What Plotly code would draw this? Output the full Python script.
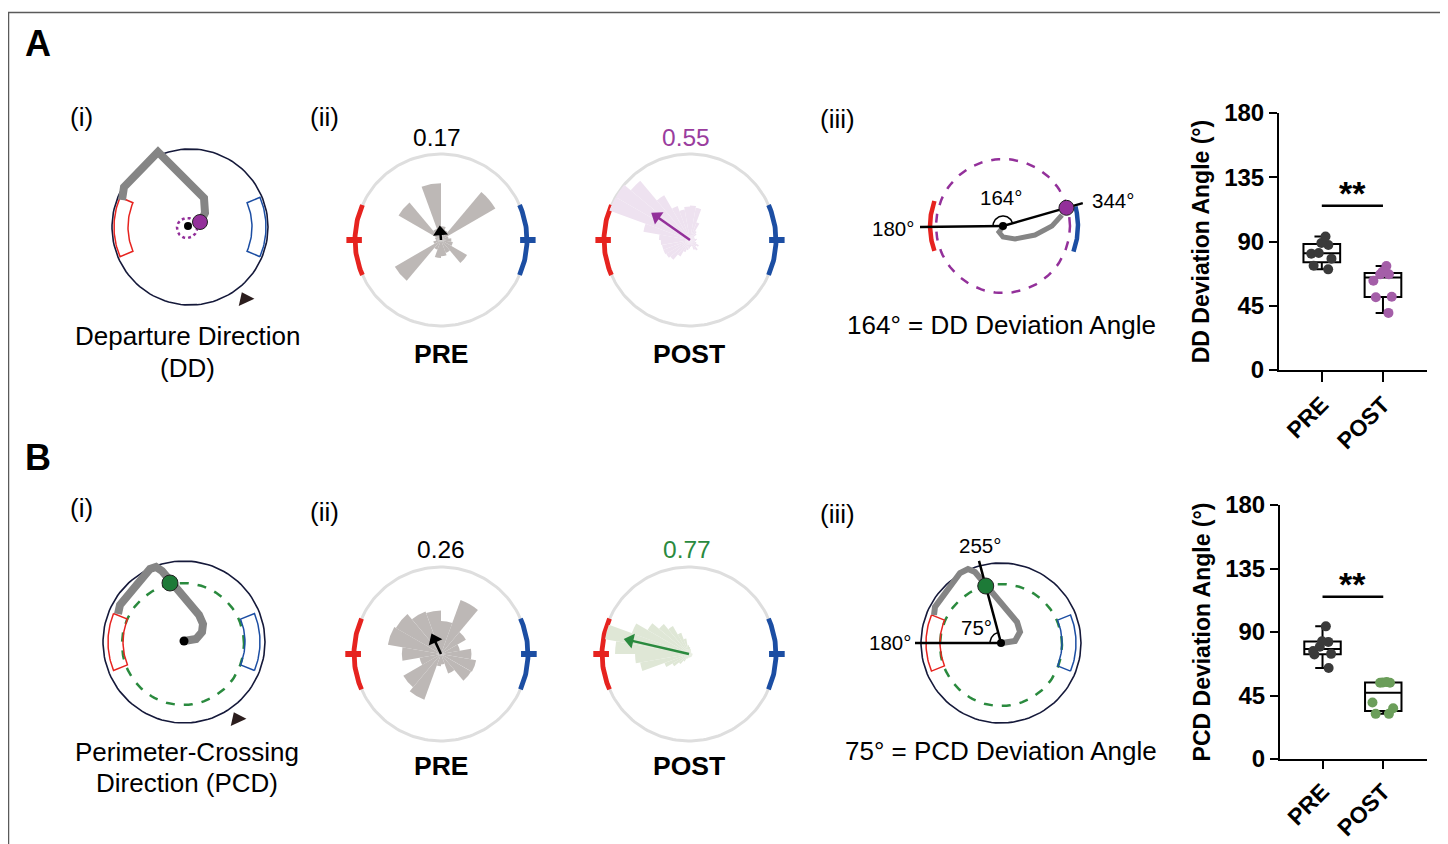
import numpy as np
import plotly.graph_objects as go

# page offset (browser body margin) and figure size
OX, OY = 8, 8
FW, FH = 1440, 836
FONT = "Liberation Sans, Arial, sans-serif"

# ---------------- data ----------------
pre_theta = list(range(0, 360, 20))          # 20-degree bins (PRE roses)
post_theta = list(range(5, 360, 10))         # 10-degree bins (POST roses)

dd_pre_rose = [0.12, 0.09, 0.73, 0.12, 0.16, 0.66, 0.14, 0.57, 0.07,
               0.06, 0.09, 0.62, 0.12, 0.21, 0.19, 0.16, 0.35, 0.14]
dd_post_rose = [0.08, 0.06, 0.05, 0.06, 0.10, 0.12, 0.22, 0.38, 0.40, 0.39,
                0.36, 0.42, 0.60, 0.90, 1.00, 1.00, 0.55, 0.36, 0.34, 0.33,
                0.33, 0.32, 0.30, 0.22, 0.15, 0.12, 0.10, 0.08, 0.07, 0.12,
                0.14, 0.10, 0.12, 0.08, 0.06, 0.07]
pcd_pre_rose = [0.35, 0.22, 0.33, 0.66, 0.38, 0.50, 0.52, 0.60, 0.62,
                0.45, 0.25, 0.50, 0.56, 0.14, 0.12, 0.24, 0.40, 0.41]
pcd_post_rose = [0.04, 0.03, 0.03, 0.03, 0.03, 0.04, 0.05, 0.06, 0.08, 0.10,
                 0.18, 0.26, 0.37, 0.45, 0.55, 0.70, 0.98, 0.85, 0.62, 0.57,
                 0.30, 0.22, 0.15, 0.10, 0.06, 0.05, 0.04, 0.04, 0.04, 0.04,
                 0.04, 0.04, 0.04, 0.04, 0.04, 0.04]

# mean resultant vectors (length, direction in degrees ccw from right)
dd_pre_vec = (0.17, 95)
dd_post_vec = (0.55, 145)
pcd_pre_vec = (0.26, 115)
pcd_post_vec = (0.77, 167)

# deviation angles (deg) per animal
dd_pre = [93.5, 89, 87.5, 82, 81.5, 78, 73, 70.5]
dd_post = [72.8, 68.8, 67, 67, 62.5, 51.3, 51, 40]
pcd_pre = [94, 83.5, 83, 79.5, 76.5, 74.5, 74, 64.5]
pcd_post = [54.5, 54.3, 54, 54, 40, 36, 32, 32]
groups = ["PRE", "POST"]
y_ticks = [0, 45, 90, 135, 180]
sig_level = 115
sig_label = "**"

# ---------------- colours ----------------
RED = "#e6231f"
BLUE = "#1c4ea3"
GRAY_BAR = "#bdb8b6"
PURPLE = "#93309a"
PURPLE_LIGHT = "#eee2f0"
GREEN = "#2a8a3e"
GREEN_LIGHT = "#dfe7d6"
NAVY = "#15193a"
TRAJ = "#858585"


def fx(p):
    return (p - OX) / FW


def fy(p):
    return (OY + FH - p) / FH


fig = go.Figure()


def add_line(xs, ys, color, width, dash="solid"):
    fig.add_trace(go.Scatter(x=list(xs), y=list(ys), mode="lines",
                             line=dict(color=color, width=width, dash=dash),
                             hoverinfo="skip", showlegend=False,
                             xaxis="x", yaxis="y"))


def add_dot(x, y, color, size, lc="#222", lw=1, symbol="circle", angle=0):
    fig.add_trace(go.Scatter(x=[x], y=[y], mode="markers",
                             marker=dict(color=color, size=size, symbol=symbol,
                                         angle=angle, line=dict(color=lc, width=lw)),
                             hoverinfo="skip", showlegend=False,
                             xaxis="x", yaxis="y"))


def arc(cx, cy, r, a0, a1, n=120):
    t = np.radians(np.linspace(a0, a1, n))
    return cx + r * np.cos(t), cy - r * np.sin(t)


def sector(cx, cy, ri, ro, a0, a1, color):
    xo, yo = arc(cx, cy, ro, a0, a1, 30)
    xi, yi = arc(cx, cy, ri, a1, a0, 30)
    xs = np.concatenate([xo, xi, xo[:1]])
    ys = np.concatenate([yo, yi, yo[:1]])
    add_line(xs, ys, color, 1.5)


def text(x, y, s, size=26, color="black", bold=False, xanchor="center"):
    fig.add_annotation(x=x, y=y, xref="x", yref="y", text=s, showarrow=False,
                       xanchor=xanchor, yanchor="middle",
                       font=dict(family=FONT, size=size, color=color,
                                 weight="bold" if bold else "normal"))


# ---------------- panel (i) schematics ----------------
# A(i)
cx, cy = 190, 227
add_line(*arc(cx, cy, 78, 0, 360), NAVY, 1.6)
sector(cx, cy, 62, 76, 157, 203, RED)
sector(cx, cy, 62, 76, -23, 23, BLUE)
add_line([122, 124, 158, 204, 205, 201], [200, 187, 152, 198, 213, 221], TRAJ, 8)
add_line(*arc(187, 228, 10, 0, 360), PURPLE, 2.5, "dot")
add_dot(188, 226, "black", 8, lw=0)
add_dot(200, 222, PURPLE, 15)
add_dot(245, 299, "#2b1d1d", 15, lw=0, symbol="triangle-up", angle=-25)
text(187, 336, "Departure Direction")
text(187, 368, "(DD)")

# B(i)
cx, cy = 184, 642
add_line(*arc(cx, cy, 81, 0, 360), NAVY, 1.6)
add_line(*arc(183, 644, 61, 0, 360), GREEN, 2.5, "dash")
sector(cx, cy, 61, 76, 158, 202, RED)
sector(cx, cy, 61, 76, -22, 22, BLUE)
add_line([184, 196, 202, 203, 199, 162, 156, 150, 120, 118],
         [641, 639, 632, 624, 615, 571, 567, 569, 605, 614], TRAJ, 8)
add_dot(184, 641, "black", 9, lw=0)
add_dot(170, 583, "#1d7a37", 16)
add_dot(237, 719, "#2b1d1d", 15, lw=0, symbol="triangle-up", angle=-25)
text(187, 752, "Perimeter-Crossing")
text(187, 783, "Direction (PCD)")

# ---------------- panel (iii) schematics ----------------
# A(iii)
cx, cy = 1003, 226
add_line(*arc(cx, cy, 67, 0, 360), PURPLE, 2.5, "dash")
add_line(*arc(cx, cy, 73, 160, 200), RED, 4.5)
add_line(*arc(cx, cy, 75, -20, 15), BLUE, 4.5)
add_line([1003, 999, 1003, 1015, 1035, 1052, 1062], [227, 232, 237, 239, 235, 226, 215], TRAJ, 5)
add_line([920, cx], [227, cy], "black", 2.5)
ex, ey = arc(cx, cy, 83, 16, 16, 1)
add_line([cx, ex[0]], [cy, ey[0]], "black", 2.5)
add_line(*arc(cx, cy, 10, 16, 180, 40), "black", 1.5)
add_dot(cx, cy, "black", 8, lw=0)
px, py = arc(cx, cy, 66, 16, 16, 1)
add_dot(px[0], py[0], PURPLE, 15)
text(1001, 197, "164°", size=20.5)
text(1113, 200, "344°", size=20.5)
text(893, 228, "180°", size=20.5)
text(1001, 325, "164° = DD Deviation Angle")

# B(iii)
cx, cy = 1001, 643
add_line(*arc(cx, cy, 80, 0, 360), NAVY, 1.6)
add_line(*arc(cx, cy + 2, 61, 0, 360), GREEN, 2.5, "dash")
sector(cx, cy, 61, 75, 158, 202, RED)
sector(cx, cy, 61, 75, -22, 22, BLUE)
add_line([1002, 1015, 1020, 1017, 975, 968, 960, 935, 934],
         [643, 641, 632, 622, 572, 569, 573, 607, 615], TRAJ, 6)
add_line([915, cx], [cy, cy], "black", 2.5)
ex, ey = arc(cx, cy, 85, 105, 105, 1)
add_line([cx, ex[0]], [cy, ey[0]], "black", 2.5)
add_line(*arc(cx, cy, 11, 105, 180, 30), "black", 1.5)
add_dot(cx, cy, "black", 8, lw=0)
gx, gy = arc(cx, cy, 59, 105, 105, 1)
add_dot(gx[0], gy[0], "#1d7a37", 16)
text(980, 545, "255°", size=20.5)
text(890, 642, "180°", size=20.5)
text(976, 627, "75°", size=20.5)
text(1001, 751, "75° = PCD Deviation Angle")

# ---------------- panel labels ----------------
text(38, 43, "A", size=36, bold=True)
text(38, 457, "B", size=36, bold=True)
text(81, 117, "(i)")
text(324, 117, "(ii)")
text(837, 119, "(iii)")
text(81, 508, "(i)")
text(324, 512, "(ii)")
text(837, 514, "(iii)")

# ---------------- rose plots ----------------
roses = [
    ("polar", 441, 240, 86, pre_theta, 20, dd_pre_rose, GRAY_BAR, dd_pre_vec, "black"),
    ("polar2", 690, 240, 86, post_theta, 10, dd_post_rose, PURPLE_LIGHT, dd_post_vec, PURPLE),
    ("polar3", 441, 654, 87, pre_theta, 20, pcd_pre_rose, GRAY_BAR, pcd_pre_vec, "black"),
    ("polar4", 689, 654, 87, post_theta, 10, pcd_post_rose, GREEN_LIGHT, pcd_post_vec, GREEN),
]
polar_layouts = {}
for name, pcx, pcy, pr, th, bw, vals, col, vec, acol in roses:
    # outer ring and stimulus arcs (drawn underneath the rose)
    add_line(*arc(pcx, pcy, pr, 0, 360, 180), "#dedede", 3)
    for a0, a1, c in [(156, 204, RED), (-24, 24, BLUE)]:
        add_line(*arc(pcx, pcy, pr, a0, a1, 40), c, 4.8)
        mid = np.radians((a0 + a1) / 2)
        add_line([pcx + 0.92 * pr * np.cos(mid), pcx + 1.1 * pr * np.cos(mid)],
                 [pcy, pcy], c, 6)
    polar_layouts[name] = dict(
        domain=dict(x=[fx(pcx - pr), fx(pcx + pr)], y=[fy(pcy + pr), fy(pcy - pr)]),
        bgcolor="rgba(0,0,0,0)",
        radialaxis=dict(visible=False, range=[0, 1]),
        angularaxis=dict(rotation=0, direction="counterclockwise", visible=False,
                         showticklabels=False, ticks="", showgrid=False, showline=False),
    )
    fig.add_trace(go.Barpolar(r=vals, theta=th, width=[bw] * len(th),
                              marker=dict(color=col, line=dict(width=0)),
                              subplot=name, hoverinfo="skip", showlegend=False))
    # mean vector arrow
    R, ang = vec
    head = 6.5 / pr
    fig.add_trace(go.Scatterpolar(r=[0, max(R - head, 0)], theta=[ang, ang], mode="lines",
                                  line=dict(color=acol, width=2.5),
                                  subplot=name, hoverinfo="skip", showlegend=False))
    fig.add_trace(go.Scatterpolar(r=[max(R - head, 0.02)], theta=[ang], mode="markers",
                                  marker=dict(symbol="triangle-up", size=13, angle=90 - ang,
                                              color=acol),
                                  subplot=name, hoverinfo="skip", showlegend=False))

text(437, 137, f"{dd_pre_vec[0]:.2f}", size=24.5)
text(686, 137, f"{dd_post_vec[0]:.2f}", size=24.5, color="#9a3d9e")
text(441, 549, f"{pcd_pre_vec[0]:.2f}", size=24.5)
text(687, 549, f"{pcd_post_vec[0]:.2f}", size=24.5, color=GREEN)
text(441, 354, "PRE", size=26.5, bold=True)
text(689, 354, "POST", size=26.5, bold=True)
text(441, 766, "PRE", size=26.5, bold=True)
text(689, 766, "POST", size=26.5, bold=True)

# ---------------- box plots ----------------
box_sets = [
    ("x2", "y2", dd_pre, dd_post, "#3a3a3a", "#a45ea8"),
    ("x3", "y3", pcd_pre, pcd_post, "#3a3a3a", "#6b9e5a"),
]
for xa, ya, pre_v, post_v, c_pre, c_post in box_sets:
    for g, vals, c in [(groups[0], pre_v, c_pre), (groups[1], post_v, c_post)]:
        fig.add_trace(go.Box(y=vals, x=[g] * len(vals), xaxis=xa, yaxis=ya,
                             boxpoints="all", jitter=0.7, pointpos=0,
                             fillcolor="rgba(0,0,0,0)", width=0.6, whiskerwidth=0.4,
                             line=dict(color="black", width=2),
                             marker=dict(color=c, size=10, line=dict(width=0)),
                             hoverinfo="skip", showlegend=False))
    fig.add_trace(go.Scatter(x=groups, y=[sig_level, sig_level], mode="lines",
                             line=dict(color="black", width=2.5), xaxis=xa, yaxis=ya,
                             hoverinfo="skip", showlegend=False))
    fig.add_annotation(x=0.5, y=sig_level + 9, xref=xa, yref=ya, text=sig_label,
                       showarrow=False, font=dict(family=FONT, size=34, weight="bold"))


def box_axes(x0, x1, ybot, ytop, title):
    xa = dict(domain=[fx(x0), fx(x1)], type="category", categoryorder="array",
              categoryarray=groups, range=[-0.7, 1.72], showline=True, linecolor="black",
              linewidth=2, ticks="outside", ticklen=10, tickwidth=2, tickcolor="black",
              tickangle=-45, tickfont=dict(family=FONT, size=23, weight="bold", color="black"),
              showgrid=False, zeroline=False, fixedrange=True, automargin=False)
    ya = dict(domain=[fy(ybot), fy(ytop)], range=[0, 180], tickvals=y_ticks,
              showline=True, linecolor="black", linewidth=2, ticks="outside", ticklen=8,
              tickwidth=2, tickcolor="black", showgrid=False, zeroline=False,
              tickfont=dict(family=FONT, size=24, weight="bold", color="black"),
              title=dict(text=title, standoff=8,
                         font=dict(family=FONT, size=23, weight="bold", color="black")),
              fixedrange=True, automargin=False)
    return xa, ya


xa2, ya2 = box_axes(1279, 1427, 370, 113, "DD Deviation Angle (°)")
xa3, ya3 = box_axes(1280, 1427, 759, 505, "PCD Deviation Angle (°)")
xa2["anchor"] = "y2"; ya2["anchor"] = "x2"
xa3["anchor"] = "y3"; ya3["anchor"] = "x3"
xa3["ticklen"] = 8

fig.update_layout(
    template="none",
    width=FW, height=FH, margin=dict(l=0, r=0, t=0, b=0, pad=0, autoexpand=False),
    paper_bgcolor="white", plot_bgcolor="rgba(0,0,0,0)",
    font=dict(family=FONT, color="black"),
    showlegend=False,
    xaxis=dict(domain=[0, 1], range=[OX, OX + FW], visible=False, fixedrange=True,
               automargin=False),
    yaxis=dict(domain=[0, 1], range=[OY + FH, OY], visible=False, fixedrange=True,
               automargin=False),
    xaxis2=xa2, yaxis2=ya2, xaxis3=xa3, yaxis3=ya3,
    shapes=[dict(type="rect", xref="x", yref="y", x0=8.5, x1=1441.5, y0=12.5, y1=860,
                 line=dict(color="#5a5a5a", width=1.5), fillcolor="rgba(0,0,0,0)",
                 layer="below")],
    **polar_layouts,
)

fig.write_html("out.html")
